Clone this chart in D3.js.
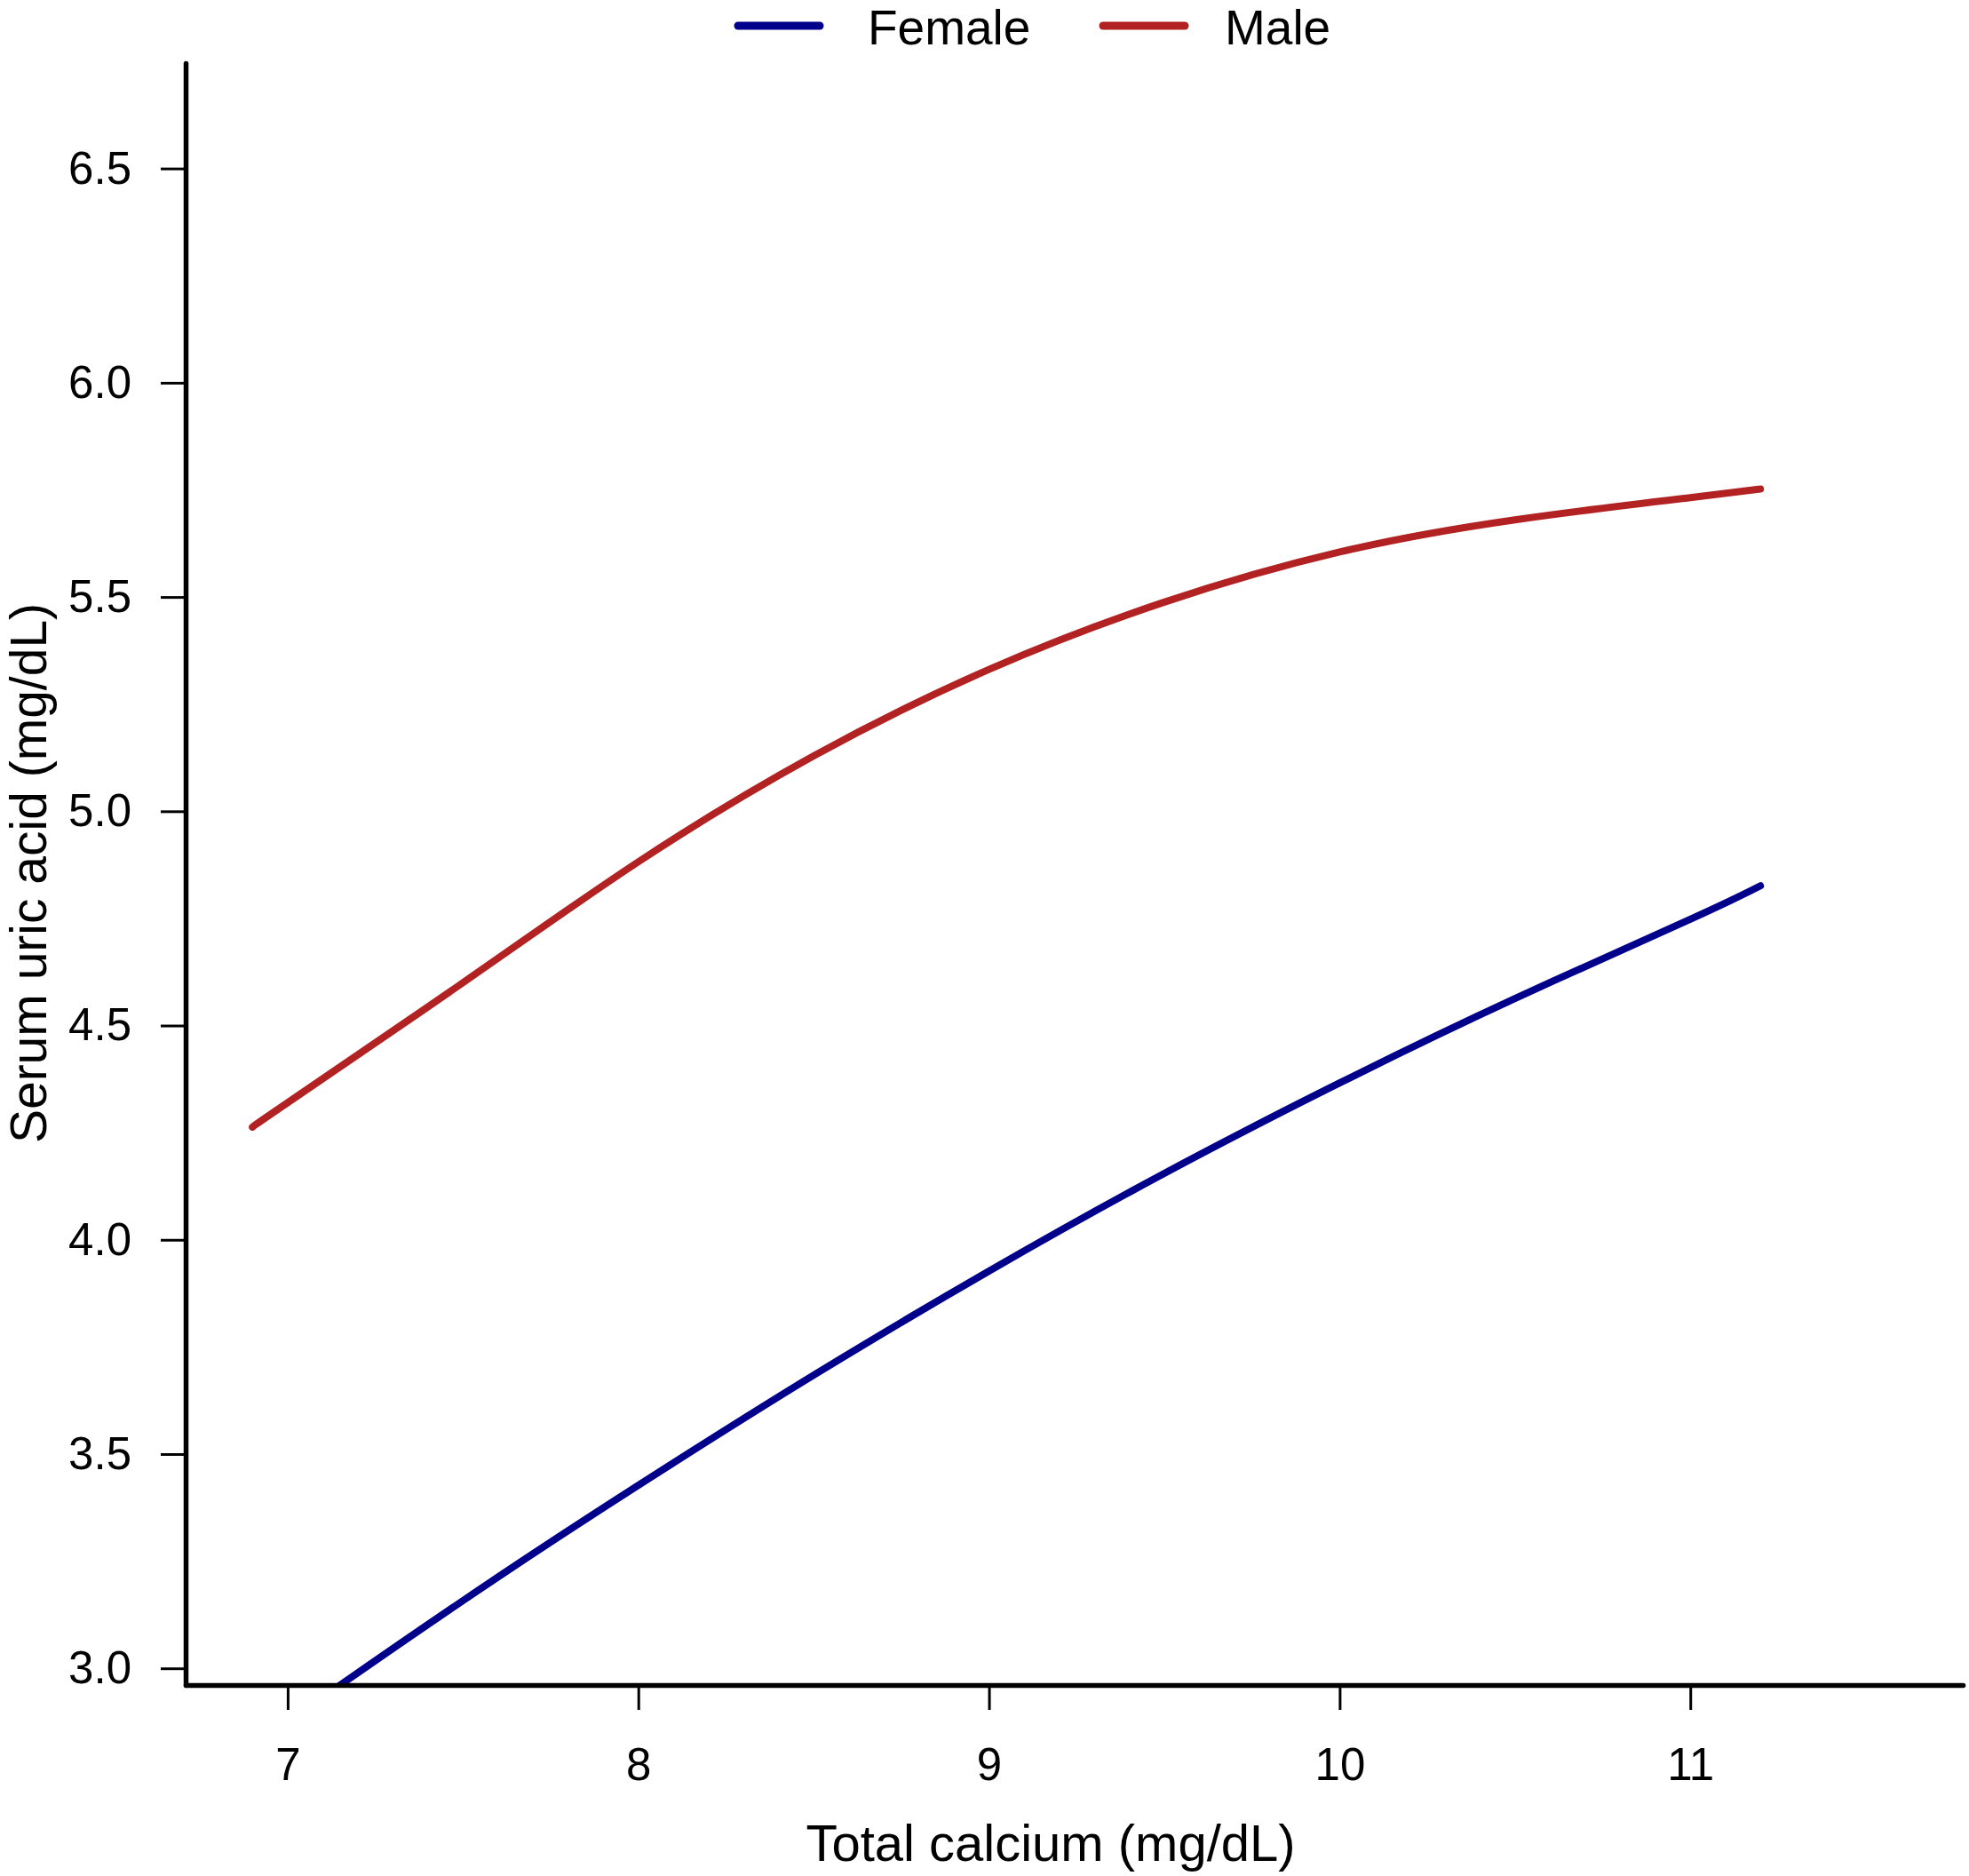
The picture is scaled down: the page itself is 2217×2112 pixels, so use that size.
<!DOCTYPE html>
<html>
<head>
<meta charset="utf-8">
<script src="https://cdn.jsdelivr.net/npm/d3@7"></script>
<style>
  body { margin: 0; background: #ffffff; }
  svg { display: block; }
</style>
</head>
<body>
<div class="grafico"></div>
<script>
// Values
var calcio  = [6.9, 7.0, 7.5, 8.0, 8.5, 9.0, 9.5, 10.0, 10.5, 11.0, 11.2];
var femmine = [2.815, 2.875, 3.158, 3.427, 3.684, 3.927, 4.155, 4.366, 4.563, 4.748, 4.826];
var maschi  = [4.263, 4.32, 4.60, 4.882, 5.129, 5.331, 5.488, 5.605, 5.680, 5.732, 5.752];

var ticksX = [7, 8, 9, 10, 11];
var ticksY = [3.0, 3.5, 4.0, 4.5, 5.0, 5.5, 6.0, 6.5];

var serie = [
  { nome: "Female", valori: femmine, colore: "#00008B" },
  { nome: "Male",   valori: maschi,  colore: "#B22222" }
];

var w = 2217,
    h = 2112;

var font = "'Liberation Sans', Arial, sans-serif";

var svg = d3.select(".grafico")
  .append("svg")
  .attr("width", w)
  .attr("height", h);

// plot area edges
var sinistra = 209, destra = 2210, alto = 71, basso = 1897;

var x = d3.scaleLinear()
  .domain([6.709, 11.777])
  .range([sinistra, destra]);

var y = d3.scaleLinear()
  .domain([2.961, 6.746])
  .range([basso, alto]);

// clip for the curves
svg.append("clipPath")
  .attr("id", "area")
  .append("rect")
  .attr("x", sinistra)
  .attr("y", alto)
  .attr("width", destra - sinistra)
  .attr("height", basso - alto);

// curves
var linea = d3.line()
  .x(function (d) { return x(d[0]); })
  .y(function (d) { return y(d[1]); })
  .curve(d3.curveNatural);

svg.append("g")
  .attr("clip-path", "url(#area)")
  .selectAll("path")
  .data(serie)
  .enter()
  .append("path")
  .attr("d", function (s) {
    return linea(calcio.map(function (c, i) { return [c, s.valori[i]]; }));
  })
  .attr("fill", "none")
  .attr("stroke", function (s) { return s.colore; })
  .attr("stroke-width", 8)
  .attr("stroke-linecap", "round")
  .attr("stroke-linejoin", "round");

// x axis
svg.append("g")
  .attr("transform", "translate(0," + basso + ")")
  .call(d3.axisBottom(x)
    .tickValues(ticksX)
    .tickFormat(d3.format("d"))
    .tickSizeInner(28)
    .tickSizeOuter(0)
    .tickPadding(43));

// y axis
svg.append("g")
  .attr("transform", "translate(" + sinistra + ",0)")
  .call(d3.axisLeft(y)
    .tickValues(ticksY)
    .tickFormat(d3.format(".1f"))
    .tickSizeInner(28)
    .tickSizeOuter(0)
    .tickPadding(33));

svg.selectAll(".domain")
  .attr("stroke", "#000")
  .attr("stroke-width", 5.5)
  .attr("stroke-linecap", "round");

svg.selectAll(".tick line")
  .attr("stroke", "#000")
  .attr("stroke-width", 3);

svg.selectAll(".tick text")
  .attr("fill", "#000")
  .style("font-family", font)
  .style("font-size", "51px");

// axis titles
svg.append("text")
  .attr("x", 1183)
  .attr("y", 2095)
  .attr("text-anchor", "middle")
  .style("font-family", font)
  .style("font-size", "58px")
  .text("Total calcium (mg/dL)");

svg.append("text")
  .attr("transform", "translate(52,983) rotate(-90)")
  .attr("text-anchor", "middle")
  .style("font-family", font)
  .style("font-size", "57px")
  .text("Serum uric acid (mg/dL)");

// legend
var legenda = [
  { x1: 831, x2: 923, tx: 977 },
  { x1: 1242, x2: 1334, tx: 1379 }
];

var voci = svg.append("g")
  .selectAll("g")
  .data(serie)
  .enter()
  .append("g");

voci.append("line")
  .attr("x1", function (s, i) { return legenda[i].x1; })
  .attr("x2", function (s, i) { return legenda[i].x2; })
  .attr("y1", 29)
  .attr("y2", 29)
  .attr("stroke", function (s) { return s.colore; })
  .attr("stroke-width", 9)
  .attr("stroke-linecap", "round");

voci.append("text")
  .attr("x", function (s, i) { return legenda[i].tx; })
  .attr("y", 50)
  .style("font-family", font)
  .style("font-size", "55px")
  .text(function (s) { return s.nome; });
</script>
</body>
</html>
